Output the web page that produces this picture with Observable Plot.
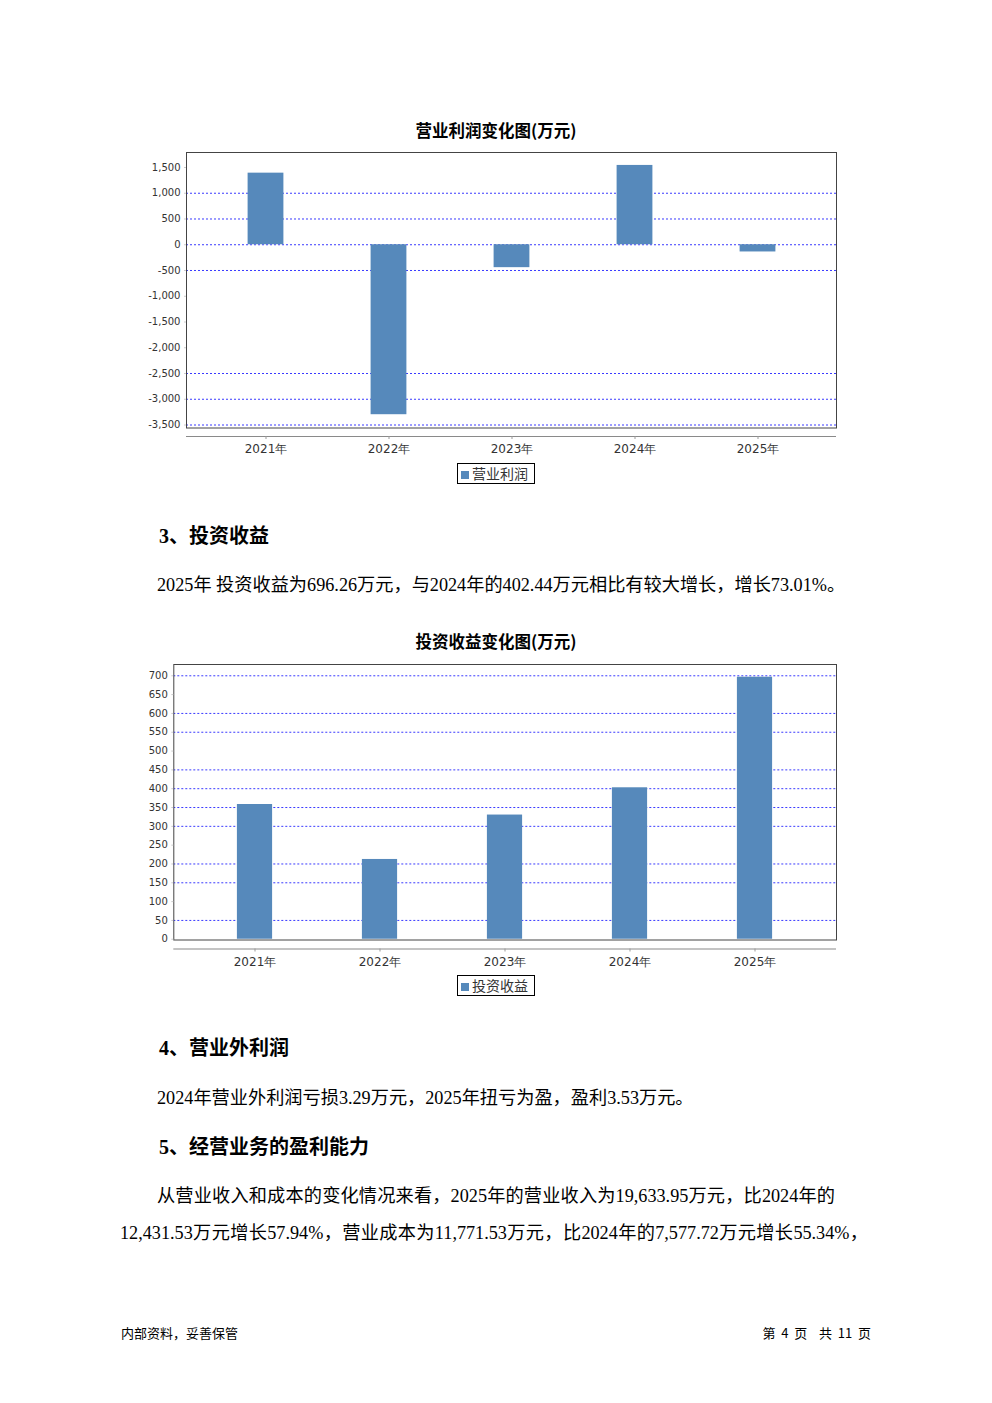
<!DOCTYPE html>
<html>
<head>
<meta charset="utf-8">
<script src="https://cdn.jsdelivr.net/npm/d3@7"></script>
<script src="https://cdn.jsdelivr.net/npm/@observablehq/plot@0.6"></script>
<style>
  html, body { margin: 0; padding: 0; background: #fff; }
  body { width: 992px; height: 1403px; position: relative; overflow: hidden;
         font-family: "Liberation Serif", "Noto Sans CJK SC", serif; color: #000; }
  .abs { position: absolute; white-space: nowrap; }
  .ctitle { font-family: "Noto Sans CJK SC", sans-serif; font-weight: bold; font-size: 16.5px;
            width: 992px; left: 0; text-align: center; line-height: 20px; }
  .h { font-family: "Liberation Serif", "Noto Sans CJK SC", serif; font-weight: bold; font-size: 20px; line-height: 24px; left: 159px; }
  .p { font-size: 18.2px; line-height: 24px; }
  .just { text-align: justify; text-align-last: justify; }
  .legend { border: 1px solid #000; height: 19px; font-family: "Noto Sans CJK SC", sans-serif;
            font-size: 14px; line-height: 19px; color: #333; box-sizing: content-box; }
  .legend .sw { display: inline-block; width: 8px; height: 8px; background: #5689bb; margin: 0 3px 0 3px; vertical-align: 0px; }
  .foot { font-family: "Noto Sans CJK SC", sans-serif; font-size: 13px; line-height: 16px; }
  .chart { position: absolute; }
</style>
</head>
<body>
<div class="abs ctitle" style="top:120px">营业利润变化图(万元)</div>
<div class="chart" id="c1" style="left:130px; top:145px"></div>
<div class="abs legend" style="left:457px; top:463px; width:76px"><span class="sw"></span>营业利润</div>

<div class="abs h" style="top:524px">3、投资收益</div>
<div class="abs p" style="left:157px; top:573px">2025年 投资收益为696.26万元，与2024年的402.44万元相比有较大增长，增长73.01%。</div>

<div class="abs ctitle" style="top:631px">投资收益变化图(万元)</div>
<div class="chart" id="c2" style="left:130px; top:657px"></div>
<div class="abs legend" style="left:457px; top:975px; width:76px"><span class="sw"></span>投资收益</div>

<div class="abs h" style="top:1036px">4、营业外利润</div>
<div class="abs p" style="left:157px; top:1086px">2024年营业外利润亏损3.29万元，2025年扭亏为盈，盈利3.53万元。</div>
<div class="abs h" style="top:1135px">5、经营业务的盈利能力</div>
<div class="abs p just" style="left:157px; top:1184px; width:678px">从营业收入和成本的变化情况来看，2025年的营业收入为19,633.95万元，比2024年的</div>
<div class="abs p just" style="left:120px; top:1221px; width:748px">12,431.53万元增长57.94%，营业成本为11,771.53万元，比2024年的7,577.72万元增长55.34%，</div>

<div class="abs foot" style="left:121px; top:1325px">内部资料，妥善保管</div>
<div class="abs foot" style="left:740px; top:1325px; width:131px; text-align:right">第&nbsp;&nbsp;4&nbsp;&nbsp;页&nbsp;&nbsp;&nbsp;&nbsp;共&nbsp;&nbsp;11&nbsp;&nbsp;页</div>

<script>
// ---- data ----
const years = ["2021年", "2022年", "2023年", "2024年", "2025年"];
const profitValues = [1390, -3300, -445, 1540, -140];
const profitTicks = [1500, 1000, 500, 0, -500, -1000, -1500, -2000, -2500, -3000, -3500];
const profitGrid = [1000, 500, 0, -500, -2500, -3000, -3500];
const profitDomain = [-3558, 1791];

const investValues = [358, 212, 330, 402.44, 696.26];
const investTicks = [0, 50, 100, 150, 200, 250, 300, 350, 400, 450, 500, 550, 600, 650, 700];
const investGrid = [700, 600, 550, 450, 400, 350, 300, 200, 150, 50];
const investDomain = [-2, 730];

const barColor = "#5689bb";
const gridColor = "#3a3aff";
const fmt = v => v.toLocaleString("en-US");

function drawChart({values, ticks, grid, domain, marginLeft, gap, barInset, marginBottom}) {
  const rows = years.map((y, i) => ({year: y, value: values[i]}));
  return Plot.plot({
    width: 720,
    height: 315,
    marginLeft,
    marginRight: 14,
    marginTop: 7,
    marginBottom,
    style: {fontFamily: "DejaVu Sans, sans-serif", background: "transparent", overflow: "visible"},
    x: {type: "band", domain: years, padding: 0, insetLeft: 17, insetRight: 17, label: null},
    y: {domain, insetBottom: gap, label: null},
    marks: [
      Plot.ruleY(grid, {stroke: gridColor, strokeWidth: 1, strokeDasharray: "2,2"}),
      Plot.barY(rows, {x: "year", y: "value", fill: barColor, insetLeft: barInset, insetRight: barInset}),
      Plot.frame({stroke: "#444", insetBottom: gap}),
      Plot.ruleY([domain[0]], {dy: gap, stroke: "#8a8a8a", strokeWidth: 1.2}),
      Plot.axisX({tickSize: 3, tickPadding: 5, fontSize: 12, stroke: "#999", fill: "#333"}),
      Plot.axisY({ticks, tickSize: 2, text: null, stroke: "#ccc"}),
      Plot.axisY({ticks, tickSize: 0, tickPadding: 6, fontSize: 10, fill: "#333", tickFormat: fmt})
    ]
  });
}

document.getElementById("c1").append(drawChart({
  values: profitValues, ticks: profitTicks, grid: profitGrid, domain: profitDomain,
  marginLeft: 56, gap: 8.5, barInset: 43.6, marginBottom: 24
}));
document.getElementById("c2").append(drawChart({
  values: investValues, ticks: investTicks, grid: investGrid, domain: investDomain,
  marginLeft: 43.3, gap: 9, barInset: 44.9, marginBottom: 23.5
}));
</script>
</body>
</html>
